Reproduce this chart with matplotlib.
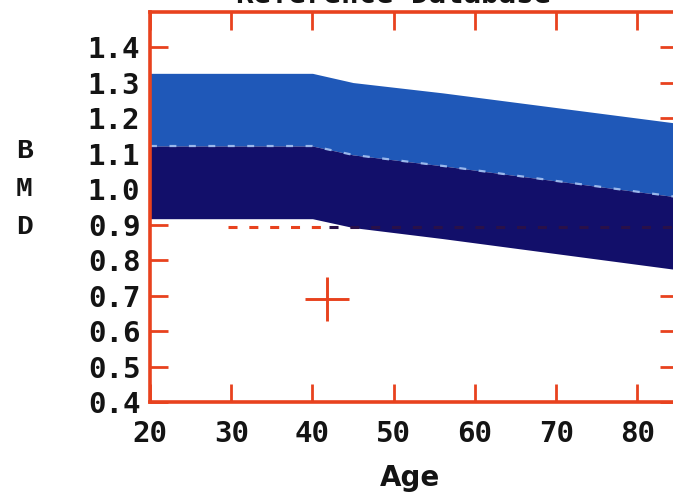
import numpy as np
import matplotlib
matplotlib.use("Agg")
import matplotlib.pyplot as plt

plt.rcParams['lines.scale_dashes'] = False

# reference curves
age = [20, 40, 45, 56, 85]
upper = [1.327, 1.327, 1.301, 1.272, 1.186]
mean = [1.122, 1.122, 1.097, 1.066, 0.978]
lower = [0.917, 0.917, 0.892, 0.861, 0.773]

# patient point and its reference line
pat_age = 41.8
pat_bmd = 0.69
ref_line = 0.895

xticks = [20, 30, 40, 50, 60, 70, 80]
yticks = [0.4, 0.5, 0.6, 0.7, 0.8, 0.9, 1.0, 1.1, 1.2, 1.3, 1.4]

red = '#e8421e'
light = '#1f58b8'
navy = '#120f6a'
mono = 'DejaVu Sans Mono'

fig = plt.figure(figsize=(6.73, 4.97), dpi=100)
ax = fig.add_axes([150/673, 95/497, 528/673, 390/497])
ax.set_axisbelow(True)

ax.fill_between(age, mean, upper, color=light, lw=0, zorder=1)
ax.fill_between(age, lower, mean, color=navy, lw=0, zorder=1)
ax.plot(age, mean, color='#9ab8ec', lw=1.6, dashes=(5, 9), zorder=2)

ax.plot([29.6, 42], [ref_line, ref_line], color=red, lw=2.2, dashes=(6.5, 8.5), zorder=2)
ax.plot([42, 85], [ref_line, ref_line], color='#2a1048', lw=2.2, dashes=(6.5, 8.5), zorder=2)

ax.plot(pat_age, pat_bmd, marker='+', color=red, ms=32, mew=2.1, zorder=3)

ax.set_xlim(20, 85)
ax.set_ylim(0.4, 1.5)
ax.set_xticks(xticks)
ax.set_yticks(yticks)
ax.set_xticklabels([str(a) for a in xticks])
ax.set_yticklabels(['%.1f' % v for v in yticks])

for s in ax.spines.values():
    s.set_color(red)
    s.set_linewidth(2.6)
    s.set_zorder(4)

ax.tick_params(axis='x', which='both', direction='in', length=13, width=2,
               color=red, top=True, bottom=True, pad=13)
ax.tick_params(axis='y', which='both', direction='in', length=13, width=2,
               color=red, left=True, right=True, pad=7)
for lab in ax.get_xticklabels() + ax.get_yticklabels():
    lab.set_fontfamily(mono)
    lab.set_fontweight('bold')
    lab.set_fontsize(21)
    lab.set_color('#141414')

fig.text(393/673, 1 - 3/497, 'Reference Database', ha='center', va='baseline',
         family=mono, weight='bold', fontsize=21, color='#141414')
fig.text(24/673, 1 - 189/497, 'B\nM\nD', ha='center', va='center',
         family='Liberation Mono', weight='bold', fontsize=20,
         linespacing=1.6, color='#141414')
fig.text(410/673, 1 - 478/497, 'Age', ha='center', va='center',
         family='DejaVu Sans', weight='bold', fontsize=20, color='#141414')

fig.savefig('out.png', dpi=100, facecolor='white')
